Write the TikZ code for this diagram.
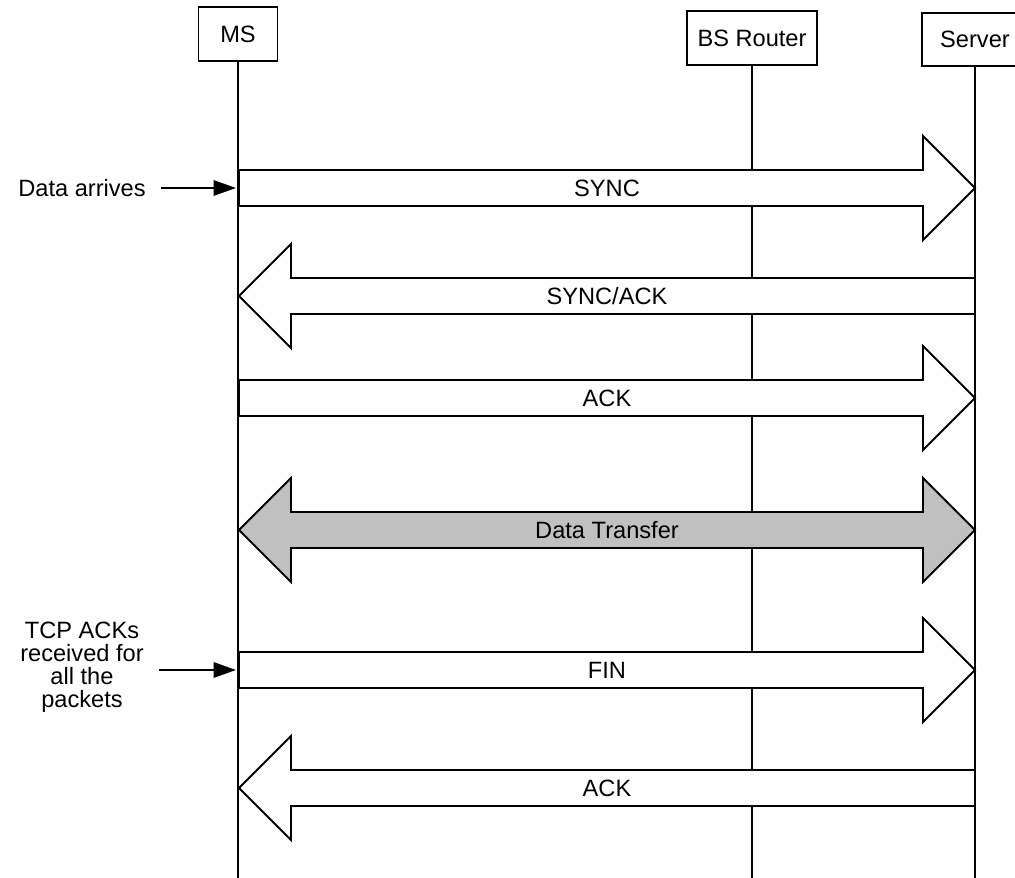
\documentclass[tikz,border=0pt]{standalone}
\usepackage{fontspec}
\setmainfont{Liberation Sans}
\usetikzlibrary{arrows.meta}
\definecolor{transfergray}{RGB}{192,192,192}

\begin{document}
\begin{tikzpicture}[x=0.025cm, y=-0.025cm, line width=1.4pt,
    font=\fontsize{16.8pt}{16.4pt}\selectfont,
    entity/.style={draw, fill=white, minimum height=1.33cm, inner sep=0pt},
    msg/.style={draw, fill=white, line join=miter},
    note/.style={align=center, inner sep=0pt},
    trigger/.style={-{Triangle[length=16pt,width=11pt]}, shorten <=10pt}]
    \clip (0,0) rectangle (1015,878);

    % Entities
    \node[entity, minimum width=1.975cm] (ms) at (238,34) {MS};
    \node[entity, minimum width=3.25cm] (bs) at (752,38) {BS Router};
    \node[entity, minimum width=2.65cm] (server) at (975,39.5) {Server};

    % Lifelines
    \draw (ms.south) -- (ms.south |- 0,900);
    \draw (bs.south) -- (bs.south |- 0,900);
    \draw (server.south) -- (server.south |- 0,900);

    % Connection setup
    \draw[msg] (239,170) -- (923,170) -- (923,136) -- (975,188) -- (923,240)
        -- (923,206) -- (239,206) -- cycle;
    \node (sync) at (607,188) {SYNC};

    \draw[msg] (975,278) -- (291,278) -- (291,244) -- (239,296) -- (291,348)
        -- (291,314) -- (975,314) -- cycle;
    \node (syncack) at (607,296) {SYNC/ACK};

    \draw[msg] (239,380) -- (923,380) -- (923,346) -- (975,398) -- (923,450)
        -- (923,416) -- (239,416) -- cycle;
    \node (ack) at (607,398) {ACK};

    % Data transfer
    \draw[msg, fill=transfergray] (291,512) -- (923,512) -- (923,478) -- (975,530)
        -- (923,582) -- (923,548) -- (291,548) -- (291,582) -- (239,530)
        -- (291,478) -- cycle;
    \node (transfer) at (607,530) {Data Transfer};

    % Connection release
    \draw[msg] (239,652) -- (923,652) -- (923,618) -- (975,670) -- (923,722)
        -- (923,688) -- (239,688) -- cycle;
    \node (fin) at (607,670) {FIN};

    \draw[msg] (975,770) -- (291,770) -- (291,736) -- (239,788) -- (291,840)
        -- (291,806) -- (975,806) -- cycle;
    \node (finack) at (607,788) {ACK};

    % Triggers on the MS side
    \coordinate (syncin) at (236,188);
    \coordinate (finin) at (236,670);
    \node[note] (arrives) at (82,188) {Data arrives};
    \draw[trigger] (arrives.east) -- (syncin);
    \node[note] (acked) at (82,667) {TCP ACKs\\received for\\all the\\packets};
    \draw[trigger] (acked.east |- finin) -- (finin);
\end{tikzpicture}
\end{document}
